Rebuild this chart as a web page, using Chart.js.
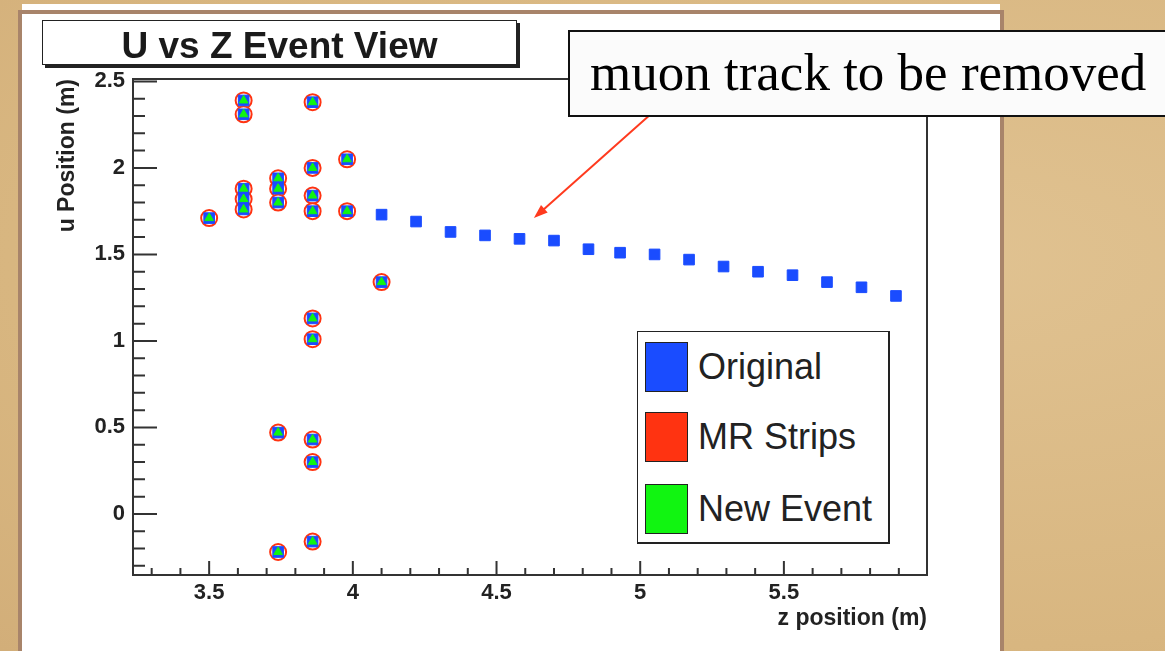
<!DOCTYPE html>
<html>
<head>
<meta charset="utf-8">
<script src="https://cdn.jsdelivr.net/npm/chart.js@4.4.1/dist/chart.umd.min.js"></script>
<style>
  body { margin:0; width:1165px; height:651px; overflow:hidden; position:relative;
         background: radial-gradient(ellipse at 80% 40%, #e0c291 0%, #d8b680 70%, #d2ae79 100%);
         font-family: "Liberation Sans", Arial, sans-serif; }
  #strip { position:absolute; left:22px; top:4px; width:978px; height:6px; background:#fff; }
  #panel { position:absolute; left:18px; top:10px; width:978px; height:700px; background:#fff; border:4px solid #a8846a; }
  #chart { position:absolute; left:0; top:0; }
  #title { position:absolute; left:42px; top:20px; width:475px; height:45px; box-sizing:border-box;
           border:1.5px solid #222; box-shadow:3px 3px 0 #222; background:#fff; color:#1a1a1a;
           font-weight:bold; font-size:37px; line-height:37px; padding-top:6px; text-align:center; }
  #note { position:absolute; left:568px; top:30px; width:640px; height:87px; box-sizing:border-box;
          border:2px solid #111; background:#fbfbfb; color:#000;
          font-family:"Liberation Serif", "Times New Roman", serif; font-size:53px; line-height:53px;
          padding:14px 0 0 20px; white-space:nowrap; }
  #legend { position:absolute; left:637px; top:331px; width:253px; height:213px; box-sizing:border-box;
            border:1.5px solid #222; border-right-width:2px; border-bottom-width:2px; background:#fff; }
  .row { position:absolute; left:7px; height:50px; display:flex; align-items:center; }
  .sw { width:41px; height:48px; border:1.5px solid #222; margin-right:10px; }
  .lab { font-size:36px; color:#222; white-space:nowrap; }
</style>
</head>
<body>
<div id="strip"></div>
<div id="panel"></div>
<canvas id="chart" width="1165" height="651"></canvas>
<div id="title">U vs Z Event View</div>
<div id="note">muon track to be removed</div>
<div id="legend"></div>
<script>
// hits in the neighbourhood of the vertex (z, u in metres)
var clusterZ = [3.50, 3.62, 3.62, 3.62, 3.62, 3.62, 3.74, 3.74, 3.74, 3.74, 3.74,
                3.86, 3.86, 3.86, 3.86, 3.86, 3.86, 3.86, 3.86, 3.86, 3.98, 3.98, 4.10];
var clusterU = [1.71, 2.39, 2.31, 1.88, 1.82, 1.76, 1.94, 1.88, 1.80, 0.47, -0.22,
                2.38, 2.00, 1.84, 1.75, 1.13, 1.01, 0.43, 0.30, -0.16, 2.05, 1.75, 1.34];

// the muon track
var trackZ = [4.10, 4.22, 4.34, 4.46, 4.58, 4.70, 4.82, 4.93, 5.05, 5.17, 5.29, 5.41, 5.53, 5.65, 5.77, 5.89];
var trackU = [1.73, 1.69, 1.63, 1.61, 1.59, 1.58, 1.53, 1.51, 1.50, 1.47, 1.43, 1.40, 1.38, 1.34, 1.31, 1.26];

var seriesNames = ['Original', 'MR Strips', 'New Event'];
var seriesColors = ['#1a4cff', '#ff3311', '#11f511'];

var zRange = [3.235, 5.998];
var uRange = [-0.353, 2.514];

// arrow from the note to the track, in data coordinates
var arrowFrom = [5.05, 2.33];
var arrowTo = [4.63, 1.71];

function toPoints(xs, ys) {
    var pts = [];
    for (var i = 0; i < xs.length; i++) {
        pts.push({x: xs[i], y: ys[i]});
    }
    return pts;
}

var originalPts = toPoints(clusterZ.concat(trackZ), clusterU.concat(trackU));
var clusterPts = toPoints(clusterZ, clusterU);

// frame + inside ticks like ROOT, and the red arrow
var rootFrame = {
    id: 'rootFrame',
    afterDraw: function(chart) {
        var ctx = chart.ctx;
        var a = chart.chartArea;
        var xs = chart.scales.x, ys = chart.scales.y;
        ctx.save();
        ctx.strokeStyle = '#333';
        ctx.lineWidth = 2;
        ctx.strokeRect(a.left, a.top, a.right - a.left, a.bottom - a.top);

        ctx.beginPath();
        var v, p, len;
        for (v = Math.ceil(xs.min * 10); v <= Math.floor(xs.max * 10); v++) {
            p = xs.getPixelForValue(v / 10);
            len = (v % 5 === 0) ? 14 : 7;
            ctx.moveTo(p, a.bottom);
            ctx.lineTo(p, a.bottom - len);
        }
        for (v = Math.ceil(ys.min * 10); v <= Math.floor(ys.max * 10); v++) {
            p = ys.getPixelForValue(v / 10);
            len = (v % 5 === 0) ? 24 : 12;
            ctx.moveTo(a.left, p);
            ctx.lineTo(a.left + len, p);
        }
        ctx.stroke();

        // arrow
        var x0 = xs.getPixelForValue(arrowFrom[0]), y0 = ys.getPixelForValue(arrowFrom[1]);
        var x1 = xs.getPixelForValue(arrowTo[0]), y1 = ys.getPixelForValue(arrowTo[1]);
        var ang = Math.atan2(y1 - y0, x1 - x0);
        ctx.strokeStyle = '#ff3a1e';
        ctx.fillStyle = '#ff3a1e';
        ctx.lineWidth = 2;
        ctx.beginPath();
        ctx.moveTo(x0, y0);
        ctx.lineTo(x1 - 10 * Math.cos(ang), y1 - 10 * Math.sin(ang));
        ctx.stroke();
        ctx.beginPath();
        ctx.moveTo(x1, y1);
        ctx.lineTo(x1 - 14 * Math.cos(ang) + 5 * Math.sin(ang), y1 - 14 * Math.sin(ang) - 5 * Math.cos(ang));
        ctx.lineTo(x1 - 14 * Math.cos(ang) - 5 * Math.sin(ang), y1 - 14 * Math.sin(ang) + 5 * Math.cos(ang));
        ctx.closePath();
        ctx.fill();
        ctx.restore();
    }
};

var tickFont = {family: '"Liberation Sans", Arial, sans-serif', size: 22, weight: 'bold'};
var titleFont = {family: '"Liberation Sans", Arial, sans-serif', size: 23, weight: 'bold'};

var chart = new Chart(document.getElementById('chart').getContext('2d'), {
    type: 'scatter',
    data: {
        datasets: [{
            label: seriesNames[0],
            data: originalPts,
            pointStyle: 'rect',
            pointRadius: 7.5,
            backgroundColor: seriesColors[0],
            borderColor: seriesColors[0],
            borderWidth: 1,
            order: 1
        }, {
            label: seriesNames[1],
            data: clusterPts,
            pointStyle: 'circle',
            pointRadius: 8,
            backgroundColor: '#ffffff',
            borderColor: seriesColors[1],
            borderWidth: 2,
            order: 2
        }, {
            label: seriesNames[2],
            data: clusterPts,
            pointStyle: 'triangle',
            pointRadius: 5,
            backgroundColor: seriesColors[2],
            borderColor: seriesColors[2],
            borderWidth: 1,
            order: 0
        }]
    },
    options: {
        responsive: false,
        animation: false,
        events: [],
        layout: { padding: { left: 0, top: 79, right: 238, bottom: 0 } },
        plugins: { legend: { display: false }, tooltip: { enabled: false } },
        scales: {
            x: {
                type: 'linear',
                min: zRange[0],
                max: zRange[1],
                afterFit: function(s) { s.height = 76; },
                grid: { display: false, drawTicks: false },
                border: { display: false },
                ticks: {
                    stepSize: 0.5,
                    includeBounds: false,
                    padding: 5,
                    color: '#222',
                    font: tickFont,
                    callback: function(v) { return String(+v.toFixed(2)); }
                },
                title: { display: true, text: 'z position (m)', align: 'end', color: '#222',
                         font: titleFont, padding: { top: 0, bottom: 19 } }
            },
            y: {
                type: 'linear',
                min: uRange[0],
                max: uRange[1],
                afterFit: function(s) { s.width = 133; },
                grid: { display: false, drawTicks: false },
                border: { display: false },
                ticks: {
                    stepSize: 0.5,
                    includeBounds: false,
                    padding: 8,
                    color: '#222',
                    font: tickFont,
                    callback: function(v) { return String(+v.toFixed(2)); }
                },
                title: { display: true, text: 'u Position (m)', align: 'end', color: '#222',
                         font: titleFont, padding: { top: 54, bottom: 0 } }
            }
        }
    },
    plugins: [rootFrame]
});

// legend box built from the series
var legend = document.getElementById('legend');
var rowTops = [10, 80, 152];
for (var i = 0; i < seriesNames.length; i++) {
    var row = document.createElement('div');
    row.className = 'row';
    row.style.top = rowTops[i] + 'px';
    row.innerHTML = '<div class="sw" style="background:' + seriesColors[i] + '"></div><span class="lab">' + seriesNames[i] + '</span>';
    legend.appendChild(row);
}
</script>
</body>
</html>
